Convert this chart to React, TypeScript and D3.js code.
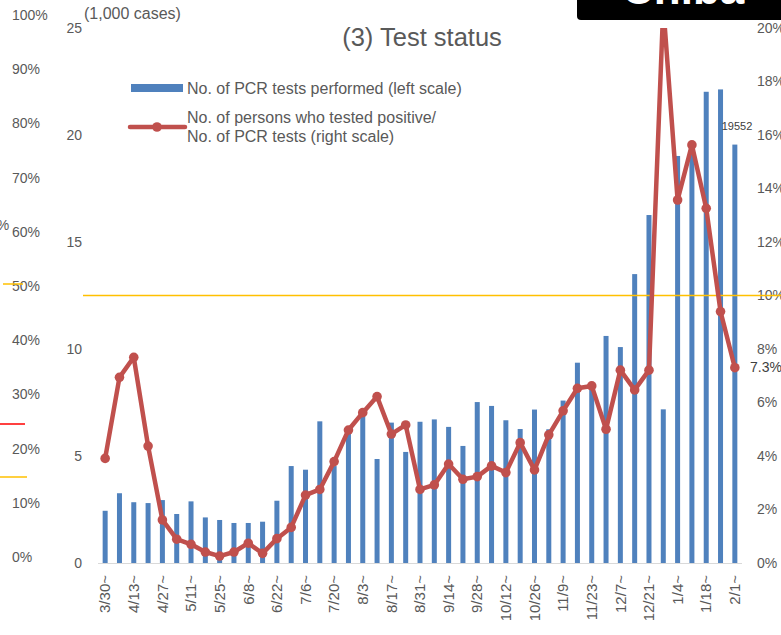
import React from "react";
import * as d3 from "d3";

const categories = ["3/30","4/6","4/13","4/20","4/27","5/4","5/11","5/18","5/25","6/1","6/8","6/15","6/22","6/29","7/6","7/13","7/20","7/27","8/3","8/10","8/17","8/24","8/31","9/7","9/14","9/21","9/28","10/5","10/12","10/19","10/26","11/2","11/9","11/16","11/23","11/30","12/7","12/14","12/21","12/28","1/4","1/11","1/18","1/25","2/1"];

// thousands of PCR tests
const tests = [2.44,3.26,2.84,2.80,2.94,2.29,2.88,2.13,2.01,1.87,1.87,1.93,2.91,4.53,4.36,6.62,4.53,6.07,6.90,4.86,6.56,5.19,6.60,6.71,6.36,5.47,7.52,7.34,6.67,6.26,7.17,6.25,7.59,9.36,8.4,10.61,10.09,13.50,16.26,7.18,19.02,19.4,22.02,22.13,19.552];

// positivity rate %
const positivity = [3.91,6.94,7.69,4.37,1.61,0.89,0.70,0.41,0.26,0.41,0.74,0.36,0.91,1.33,2.54,2.75,3.79,4.97,5.62,6.22,4.82,5.16,2.75,2.92,3.70,3.13,3.23,3.63,3.38,4.50,3.48,4.79,5.69,6.53,6.62,5.00,7.21,6.47,7.21,20.8,13.57,15.63,13.26,9.40,7.3];

const leftTicks = [0,5,10,15,20,25];
const rightTicks = [0,2,4,6,8,10,12,14,16,18,20];
const outerTicks = [0,10,20,30,40,50,60,70,80,90,100];

const W = 781, H = 635;
const plotTop = 28, plotBottom = 563, plotLeft = 98, plotRight = 742;

export default function App() {
  const x = d3.scaleBand<string>().domain(categories).range([plotLeft, plotRight]).paddingInner(0).paddingOuter(0);
  const yL = d3.scaleLinear().domain([0, 25]).range([plotBottom, plotTop]);
  const yR = d3.scaleLinear().domain([0, 20]).range([plotBottom, plotTop]);
  const yO = d3.scaleLinear().domain([0, 100]).range([557, 15]);
  const cx = (c: string) => (x(c) as number) + x.bandwidth() / 2;
  const barW = 5;
  const lineGen = d3.line<number>().x((_, i) => cx(categories[i])).y(d => yR(d));
  const grey = "#595959";
  const font = "'Liberation Sans', Arial, sans-serif";

  return (
    <svg width={W} height={H} style={{ position: "absolute", left: 0, top: 0, background: "#fff" }} fontFamily={font}>
      <defs>
        <clipPath id="plotclip">
          <rect x={0} y={plotTop} width={W} height={plotBottom - plotTop + 10} />
        </clipPath>
      </defs>
      {/* outer stray axis */}
      {outerTicks.map(t => (
        <text key={"o" + t} x={12} y={yO(t)} dy="0.35em" fontSize={14} fill={grey}>{t}%</text>
      ))}
      <text x={-11} y={225} dy="0.35em" fontSize={14} fill={grey}>0%</text>
      <line x1={3} x2={23} y1={284} y2={284} stroke="#FFC000" strokeWidth={1.5} />
      <line x1={0} x2={25} y1={424} y2={424} stroke="#FF0000" strokeWidth={1.5} />
      <line x1={0} x2={27} y1={477} y2={477} stroke="#FFC000" strokeWidth={1.5} />

      {/* title */}
      <text x={422} y={46} textAnchor="middle" fontSize={25.5} fill={grey}>(3) Test status</text>
      <text x={84} y={19} fontSize={16} fill={grey}>(1,000 cases)</text>

      {/* left axis */}
      {leftTicks.map(t => (
        <text key={"l" + t} x={82} y={yL(t)} dy="0.35em" textAnchor="end" fontSize={14} fill={grey}>{t}</text>
      ))}
      {/* right axis */}
      {rightTicks.map(t => (
        <text key={"r" + t} x={757} y={yR(t)} dy="0.35em" fontSize={14} fill={grey}>{t}%</text>
      ))}

      {/* bars */}
      {tests.map((v, i) => (
        <rect key={"b" + i} x={cx(categories[i]) - barW / 2} y={yL(v)} width={barW} height={plotBottom - yL(v)} fill="#4F81BD" />
      ))}
      <line x1={plotLeft} x2={plotRight} y1={plotBottom + 0.5} y2={plotBottom + 0.5} stroke="#D9D9D9" strokeWidth={1} />

      {/* 10% reference line */}
      <line x1={83} x2={781} y1={yR(10)} y2={yR(10)} stroke="#FFC000" strokeWidth={1.5} />

      {/* positivity line */}
      <g clipPath="url(#plotclip)">
        <path d={lineGen(positivity) || ""} fill="none" stroke="#C0504D" strokeWidth={4.5} strokeLinejoin="round" />
        {positivity.map((v, i) => (
          <circle key={"p" + i} cx={cx(categories[i])} cy={yR(v)} r={4.8} fill="#C0504D" />
        ))}
      </g>

      {/* x labels */}
      {categories.map((c, i) => i % 2 === 0 ? (
        <text key={"x" + c} transform={`translate(${cx(c)},${575}) rotate(-90)`} dy="0.35em" textAnchor="end" fontSize={15} fill={grey}>{c}~</text>
      ) : null)}

      {/* annotations */}
      <text x={737} y={130} textAnchor="middle" fontSize={11} fill="#404040">19552</text>
      <text x={750} y={372} fontSize={14} fill="#404040">7.3%</text>

      {/* legend */}
      <rect x={131} y={84} width={52} height={8} fill="#4F81BD" />
      <text x={187} y={88} dy="0.35em" fontSize={16} fill={grey}>No. of PCR tests performed (left scale)</text>
      <line x1={130} x2={185} y1={127} y2={127} stroke="#C0504D" strokeWidth={4.5} strokeLinecap="round" />
      <circle cx={157} cy={127} r={4.8} fill="#C0504D" />
      <text x={187} y={117} dy="0.35em" fontSize={16} fill={grey}>No. of persons who tested positive/</text>
      <text x={187} y={136} dy="0.35em" fontSize={16} fill={grey}>No. of PCR tests (right scale)</text>

      {/* black header box */}
      <rect x={577} y={-20} width={220} height={40} rx={4} fill="#000" />
      <text x={622} y={4} fontSize={44} fill="#fff" fontWeight="bold">Chiba</text>
    </svg>
  );
}
